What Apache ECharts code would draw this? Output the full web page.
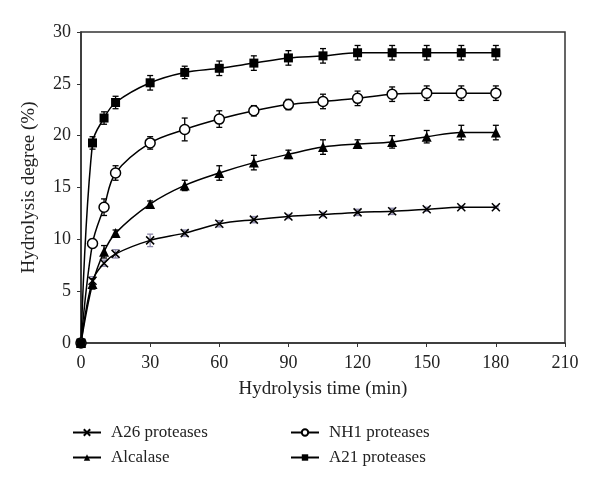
<!DOCTYPE html>
<html><head><meta charset="utf-8">
<script src="https://cdn.jsdelivr.net/npm/echarts@6/dist/echarts.min.js"></script>
<style>html,body{margin:0;padding:0;background:#fff}#c{width:600px;height:490px}</style>
</head><body><div id="c"></div>
<script>
const times = [0, 5, 10, 15, 30, 45, 60, 75, 90, 105, 120, 135, 150, 165, 180];
const a26 = [0, 6.0, 7.7, 8.6, 9.9, 10.6, 11.5, 11.9, 12.2, 12.4, 12.6, 12.7, 12.9, 13.1, 13.1];
const a26Err = [0, 0.4, 0.3, 0.4, 0.6, 0.3, 0.3, 0.3, 0.2, 0.2, 0.3, 0.3, 0.2, 0.1, 0.1];
const nh1 = [0, 9.6, 13.1, 16.4, 19.3, 20.6, 21.6, 22.4, 23.0, 23.3, 23.6, 24.0, 24.1, 24.1, 24.1];
const nh1Err = [0, 0.4, 0.8, 0.7, 0.6, 1.1, 0.8, 0.5, 0.5, 0.7, 0.7, 0.7, 0.7, 0.7, 0.7];
const alcalase = [0, 5.7, 8.8, 10.6, 13.4, 15.2, 16.4, 17.4, 18.2, 18.9, 19.2, 19.4, 19.9, 20.3, 20.3];
const alcErr = [0, 0.5, 0.6, 0.3, 0.3, 0.5, 0.7, 0.7, 0.4, 0.7, 0.4, 0.6, 0.6, 0.7, 0.7];
const a21 = [0, 19.3, 21.7, 23.2, 25.1, 26.1, 26.5, 27.0, 27.5, 27.7, 28.0, 28.0, 28.0, 28.0, 28.0];
const a21Err = [0, 0.6, 0.6, 0.6, 0.7, 0.6, 0.7, 0.7, 0.7, 0.7, 0.7, 0.7, 0.7, 0.7, 0.7];
const names = ['A26 proteases', 'NH1 proteases', 'Alcalase', 'A21 proteases'];

const FONT = 'Liberation Serif';
const pair = (ys) => times.map((t, i) => [t, ys[i]]);
const errData = (ys, es) => times.map((t, i) => [t, ys[i] - es[i], ys[i] + es[i]]);

function errSeries(ys, es, color) {
  return {
    type: 'custom', z: 2, silent: true,
    data: errData(ys, es),
    renderItem: function (params, api) {
      const x = api.value(0);
      const lo = api.coord([x, api.value(1)]);
      const hi = api.coord([x, api.value(2)]);
      const w = 3;
      const st = { stroke: color, lineWidth: 1.3 };
      return { type: 'group', children: [
        { type: 'line', shape: { x1: lo[0], y1: lo[1], x2: hi[0], y2: hi[1] }, style: st },
        { type: 'line', shape: { x1: lo[0] - w, y1: lo[1], x2: lo[0] + w, y2: lo[1] }, style: st },
        { type: 'line', shape: { x1: hi[0] - w, y1: hi[1], x2: hi[0] + w, y2: hi[1] }, style: st }
      ]};
    }
  };
}

function lineSeries(name, ys, symbol, size, itemStyle) {
  return {
    name: name, type: 'line', z: 5, smooth: 0.35, data: pair(ys),
    symbol: symbol, symbolSize: size, showAllSymbol: true,
    lineStyle: { color: '#000', width: 1.5 },
    itemStyle: itemStyle
  };
}

const chart = echarts.init(document.getElementById('c'), null, { renderer: 'canvas' });
const legendBase = {
  orient: 'vertical', itemWidth: 28, itemHeight: 8, itemGap: 8,
  textStyle: { fontFamily: FONT, fontSize: 17, color: '#222', padding: [0, 0, 0, 5] }
};
chart.setOption({
  backgroundColor: '#fff',
  animation: false,
  grid: { left: 81, right: 35, top: 32, bottom: 147, show: true, borderColor: '#333', borderWidth: 1.5 },
  legend: [
    Object.assign({ left: 67, top: 419, data: ['A26 proteases', 'Alcalase'] }, legendBase),
    Object.assign({ left: 285, top: 419, data: ['NH1 proteases', 'A21 proteases'] }, legendBase)
  ],
  xAxis: {
    type: 'value', min: 0, max: 210, interval: 30,
    name: 'Hydrolysis time (min)', nameLocation: 'middle', nameGap: 37,
    nameTextStyle: { fontFamily: FONT, fontSize: 19, color: '#222' },
    axisLine: { lineStyle: { color: '#333', width: 1.5 } },
    axisTick: { show: true, length: 4, lineStyle: { color: '#333' } },
    axisLabel: { fontFamily: FONT, fontSize: 18, color: '#222', margin: 11 },
    splitLine: { show: false }
  },
  yAxis: {
    type: 'value', min: 0, max: 30, interval: 5,
    name: 'Hydrolysis degree (%)', nameLocation: 'middle', nameGap: 42,
    nameTextStyle: { fontFamily: FONT, fontSize: 19, color: '#222' },
    axisLine: { show: true, lineStyle: { color: '#333', width: 1.5 } },
    axisTick: { show: true, length: 4, lineStyle: { color: '#333' } },
    axisLabel: { fontFamily: FONT, fontSize: 18, color: '#222', margin: 10 },
    splitLine: { show: false }
  },
  series: [
    errSeries(a26, a26Err, '#8a86a8'),
    errSeries(nh1, nh1Err, '#000'),
    errSeries(alcalase, alcErr, '#000'),
    errSeries(a21, a21Err, '#000'),
    lineSeries('A26 proteases', a26, 'path://M0,0L10,10M10,0L0,10', 8, { color: '#000', borderColor: '#000', borderWidth: 1.5 }),
    lineSeries('NH1 proteases', nh1, 'circle', 10, { color: '#fff', borderColor: '#000', borderWidth: 1.5 }),
    lineSeries('Alcalase', alcalase, 'triangle', 10, { color: '#000', borderColor: '#000', borderWidth: 0 }),
    lineSeries('A21 proteases', a21, 'rect', 9, { color: '#000', borderColor: '#000', borderWidth: 0 })
  ]
});
</script></body></html>
